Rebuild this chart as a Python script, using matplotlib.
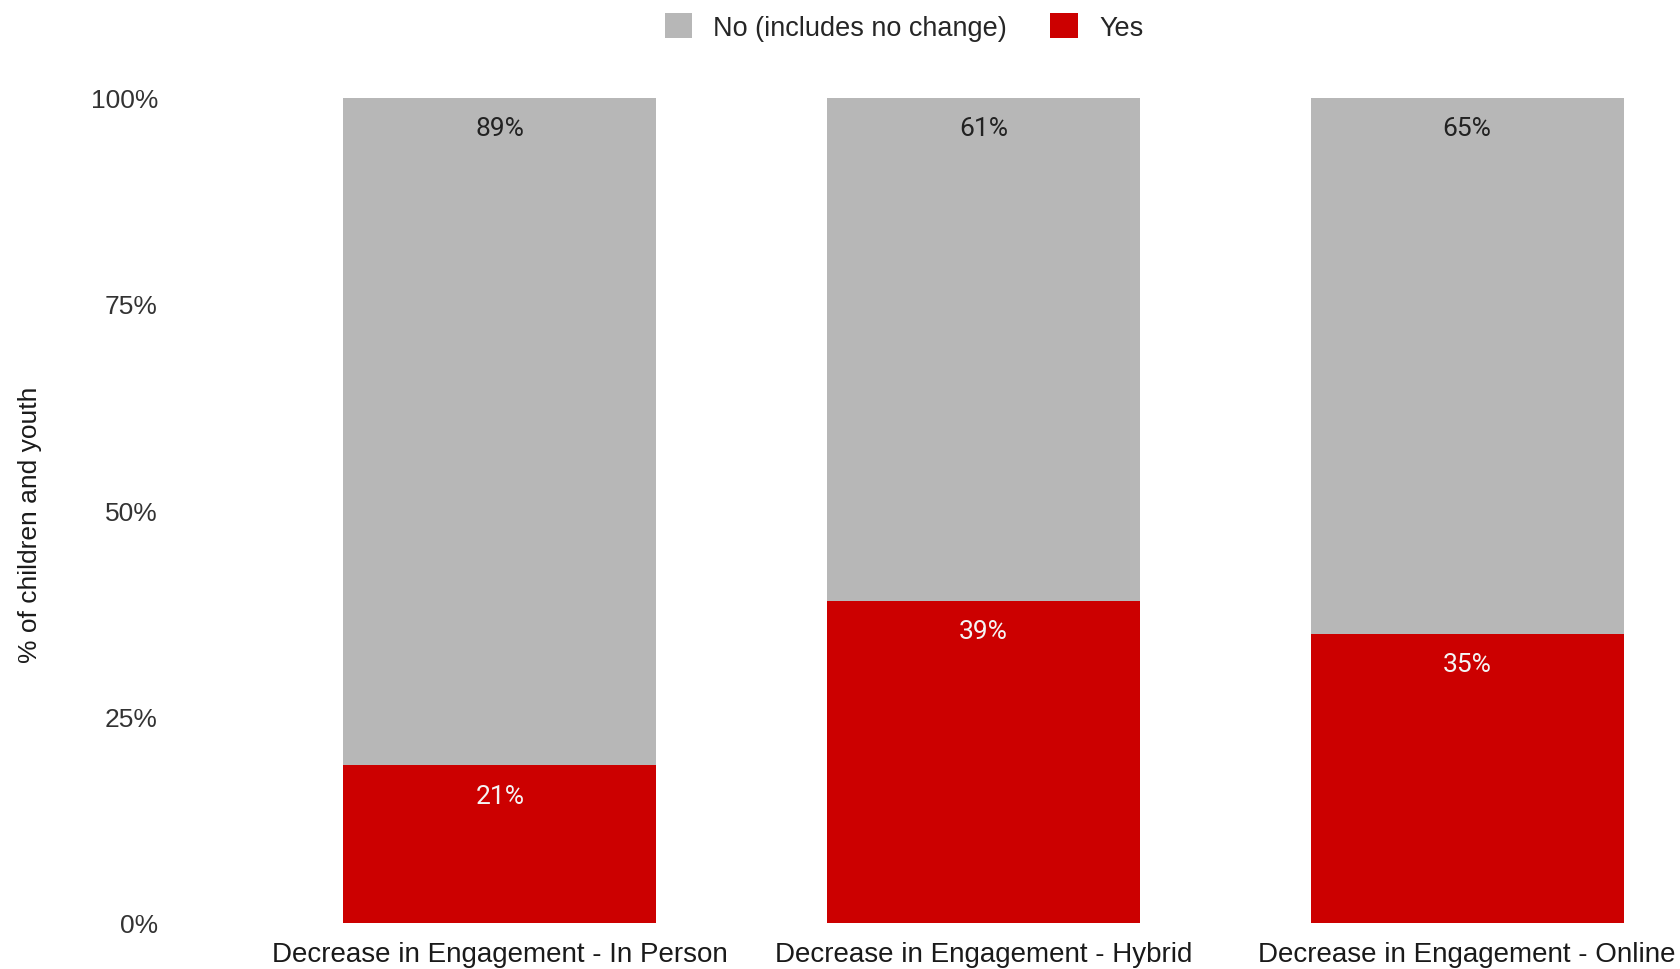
import numpy as np
import matplotlib.pyplot as plt
from matplotlib.ticker import PercentFormatter

categories = ["Decrease in Engagement - In Person",
              "Decrease in Engagement - Hybrid",
              "Decrease in Engagement - Online"]
no_vals = [89, 61, 65]
yes_vals = [21, 39, 35]
series_names = ["No (includes no change)", "Yes"]

GRAY = "#b7b7b7"
RED = "#cc0000"

plt.rcParams['font.family'] = ['Liberation Sans', 'DejaVu Sans']

no = np.array(no_vals, dtype=float)
yes = np.array(yes_vals, dtype=float)
total = no + yes
# 100% stacked: each column is scaled to its own total
yes_share = yes / total * 100
no_share = no / total * 100

fig = plt.figure(figsize=(16.8, 9.7), dpi=100)
ax = fig.add_axes([258 / 1680, 1 - 923.6 / 970, (1680 - 258) / 1680, 825 / 970])

x = np.arange(len(categories))
w = 0.647
b_yes = ax.bar(x, yes_share, w, color=RED, label=series_names[1])
b_no = ax.bar(x, no_share, w, bottom=yes_share, color=GRAY, label=series_names[0])

for rect, v in zip(b_no, no_vals):
    ax.annotate(f"{v}%", (rect.get_x() + rect.get_width() / 2, rect.get_y() + rect.get_height()),
                xytext=(0, -22), textcoords="offset points", ha="center", va="center",
                fontsize=19, color="#222222", family="Roboto")
for rect, v in zip(b_yes, yes_vals):
    ax.annotate(f"{v}%", (rect.get_x() + rect.get_width() / 2, rect.get_y() + rect.get_height()),
                xytext=(0, -22), textcoords="offset points", ha="center", va="center",
                fontsize=19, color="#f4f4f4", family="Roboto")

ax.set_xlim(-0.5, 2 + (1680 - 1467) / 484)
ax.set_ylim(0, 100)
ax.set_yticks([0, 25, 50, 75, 100])
ax.yaxis.set_major_formatter(PercentFormatter(decimals=0))
ax.set_xticks(x)
ax.set_xticklabels(categories)
ax.tick_params(axis='y', length=0, pad=72, labelsize=19, labelcolor="#333333")
ax.tick_params(axis='x', length=0, pad=13, labelsize=20, labelcolor="#1a1a1a")
for s in ax.spines.values():
    s.set_visible(False)

fig.text(30 / 1680, 1 - 525 / 970, "% of children and youth", rotation=90,
         ha="center", va="center", fontsize=19, color="#1a1a1a")

handles = [b_no, b_yes]
fig.legend(handles, series_names, loc="center", bbox_to_anchor=(904 / 1680, 1 - 28 / 970),
           ncol=2, frameon=False, fontsize=19.5, handlelength=1.0, handleheight=1.0,
           handletextpad=0.8, columnspacing=1.6, labelcolor="#262626")

fig.savefig("out.png", dpi=100)
